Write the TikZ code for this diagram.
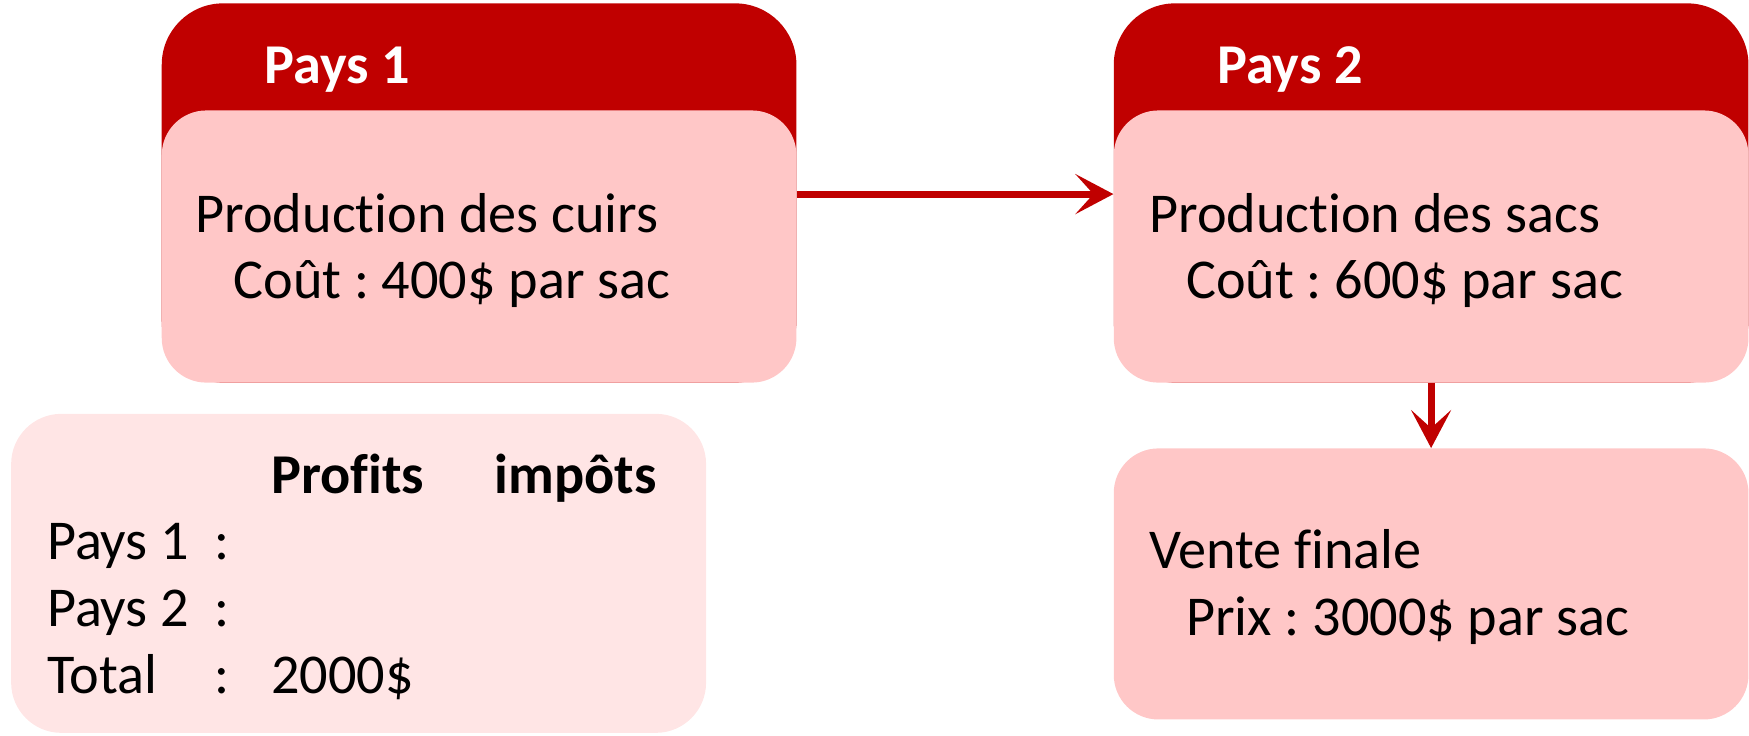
\documentclass[tikz,border=0pt]{standalone}
\usepackage{fontspec}
\setmainfont{Carlito}[Ligatures=NoCommon]
\usetikzlibrary{arrows.meta}
\definecolor{dred}{RGB}{192,0,0}
\definecolor{pinkA}{RGB}{255,199,199}
\definecolor{pinkB}{RGB}{255,229,229}
\newlength\pxu
\setlength\pxu{0.022309cm}
\frenchspacing
\begin{document}
\begin{tikzpicture}[x=\pxu,y=-\pxu,
  font=\fontsize{32}{38}\selectfont,
  headbox/.style={fill=dred, draw=none, rounded corners=55\pxu, minimum width=569\pxu, minimum height=340\pxu, inner sep=0pt},
  bodybox/.style={fill=pinkA, draw=none, rounded corners=40\pxu, minimum width=569\pxu, minimum height=244\pxu, inner sep=0pt},
  tablebox/.style={fill=pinkB, draw=none, rounded corners=45\pxu, minimum width=623\pxu, minimum height=286\pxu, inner sep=0pt},
  txt/.style={anchor=base west, inner sep=0pt},
  boldtxt/.style={txt, font=\fontsize{32}{38}\selectfont\bfseries},
  hdr/.style={boldtxt, text=white},
  arr/.style={draw=dred, line width=3.9pt, -{Stealth[length=0.76cm,width=0.8cm,inset=0.36cm]}}
]
\useasboundingbox (0,0) rectangle (1568,659);

% Pays 1
\node[headbox] (h1) at (429.5,173) {};
\node[bodybox] (b1) at (429.5,221) {};
\node[hdr] (p1) at (237,75) {Pays 1};
\node[txt] (t1a) at (175,208) {Production des cuirs};
\node[txt] (t1b) at (209,268) {Coût : 400\$ par sac};

% Pays 2
\node[headbox] (h2) at (1283,173) {};
\node[bodybox] (b2) at (1283,221) {};
\node[hdr] (p2) at (1091,75) {Pays 2};
\node[txt] (t2a) at (1030,208) {Production des sacs};
\node[txt] (t2b) at (1063,268) {Coût : 600\$ par sac};

% Vente finale
\node[bodybox, minimum height=243\pxu] (b3) at (1283,523.5) {};
\node[txt] (t3a) at (1030,510) {Vente finale};
\node[txt] (t3b) at (1063,570) {Prix : 3000\$ par sac};

% Table
\node[tablebox] (b4) at (321.5,514) {};
\node[boldtxt] (c1) at (243,442) {Profits};
\node[boldtxt] (c2) at (443,442) {impôts};
\node[txt] (r1) at (42,502) {Pays 1};
\node[txt] (r1c) at (192,502) {:};
\node[txt] (r2) at (42,562) {Pays 2};
\node[txt] (r2c) at (192,562) {:};
\node[txt] (r3) at (42,622) {Total};
\node[txt] (r3c) at (192,622) {:};
\node[txt] (r3v) at (243,622) {2000\$};

% Arrows
\draw[arr] ([yshift=47\pxu]b1.east) -- ([yshift=47\pxu]b2.west);
\draw[arr] (b2.south) -- (b3.north);
\end{tikzpicture}
\end{document}
